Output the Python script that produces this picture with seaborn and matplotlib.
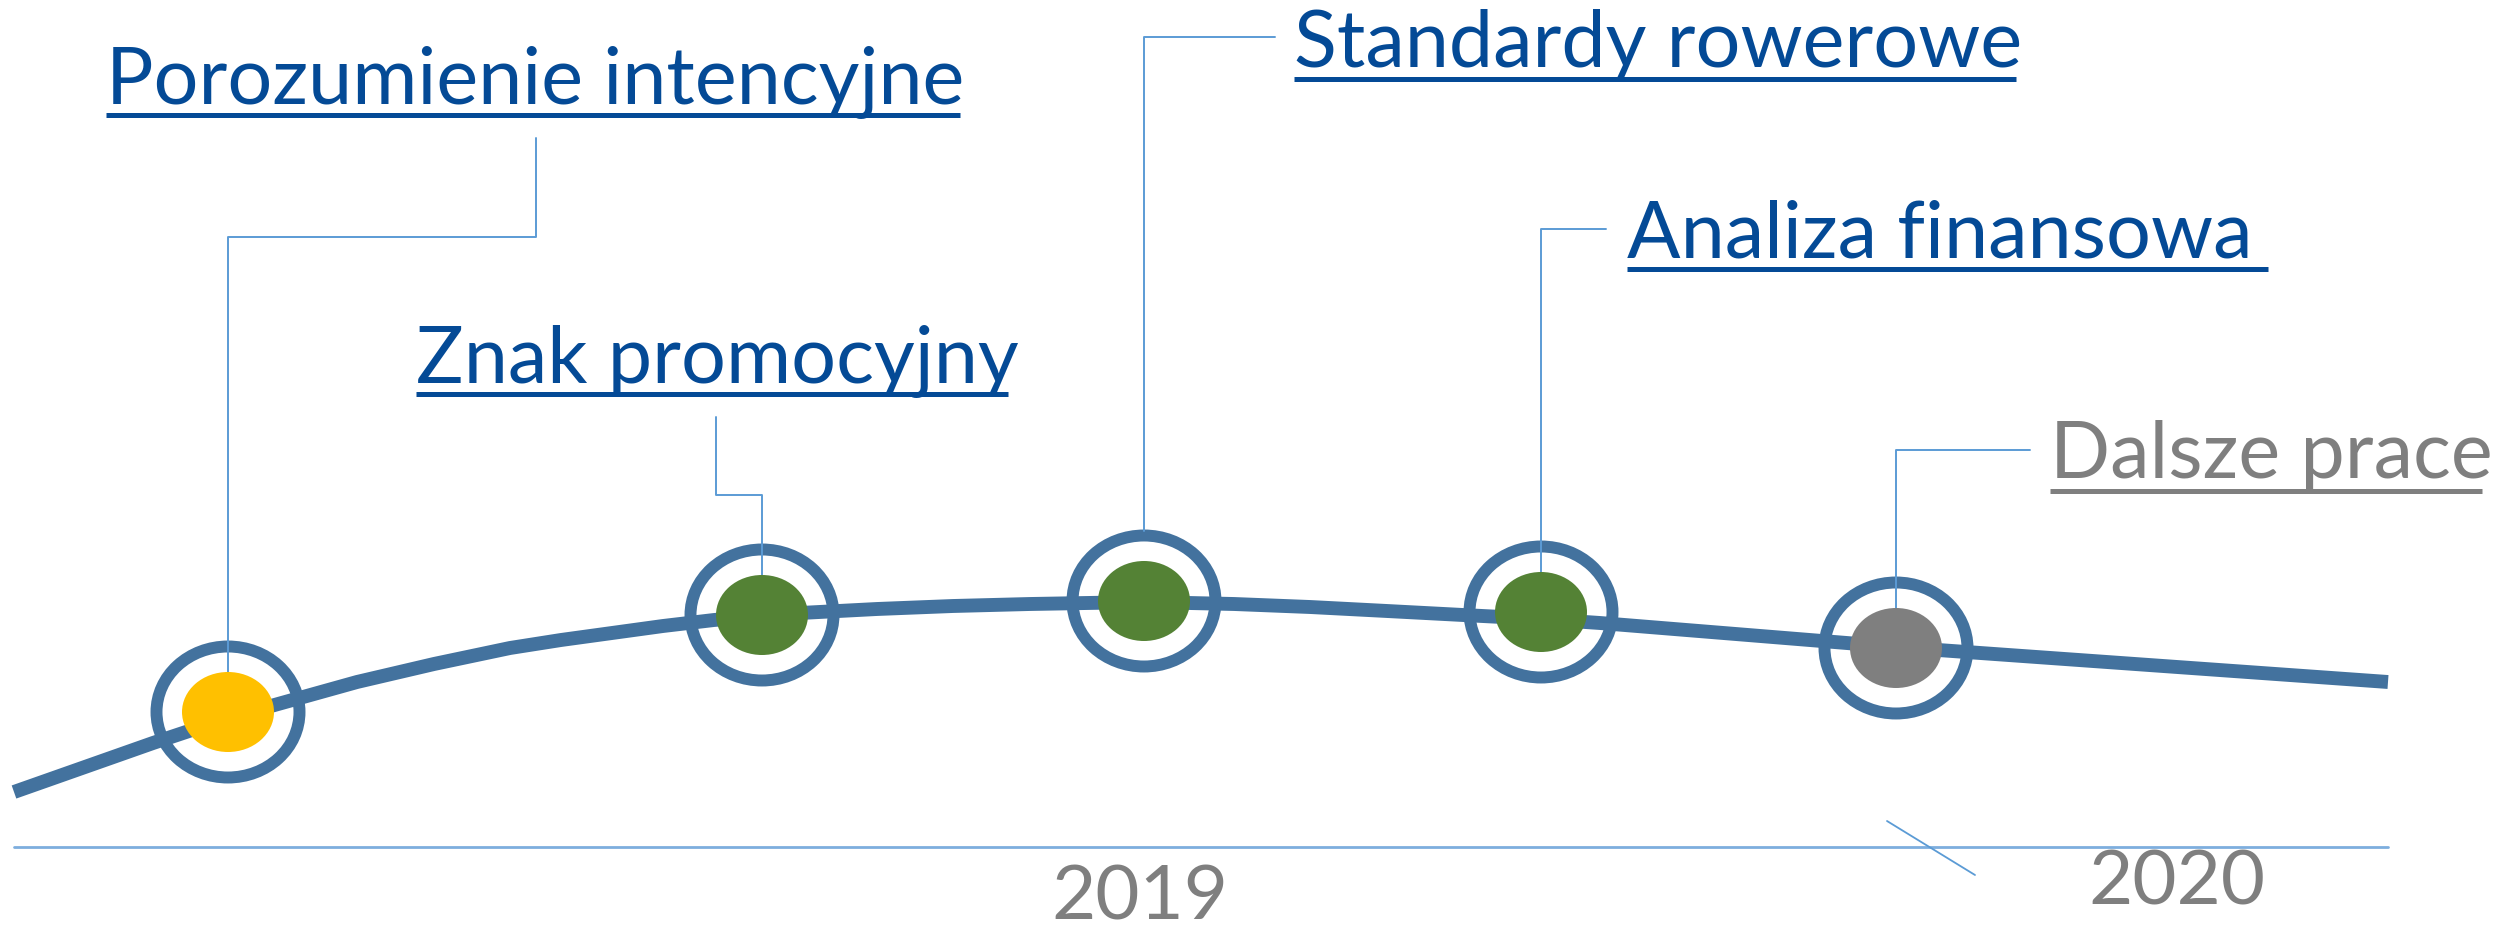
import matplotlib
matplotlib.use('Agg')
import matplotlib.pyplot as plt
from matplotlib.patches import Ellipse
import pandas as pd
import seaborn as sns

# Values, in pixel units (y grows downwards)
curve_x = [14, 153, 228, 296, 357, 434, 510, 561, 612, 663, 714, 762, 800, 877, 953,
           1030, 1144, 1234, 1310, 1387, 1463, 1541, 1600, 1896, 2388]
curve_y = [793, 744, 719, 700, 683, 665, 649, 641, 634, 627, 621, 617, 614, 610, 607,
           605, 603, 605, 608, 612, 616, 620, 624, 648, 683]

labels = ['Porozumienie intencyjne', 'Znak promocyjny', 'Standardy rowerowe',
          'Analiza finansowa ', 'Dalsze prace']
milestone_x = [228, 762, 1144, 1541, 1896]
milestone_y = [713, 616, 602, 613, 649]
fill_colors = ['#FFC000', '#548235', '#548235', '#548235', '#7F7F7F']
label_colors = ['#044A96', '#044A96', '#044A96', '#044A96', '#7F7F7F']

label_x = [106, 416, 1294, 1627, 2050]
label_baseline = [104, 383, 67, 258, 478]
underline_y = [116, 395, 80, 270, 492]
underline_end = [960, 1008, 2016, 2268, 2482]

# leader lines from each milestone up to its label
leader_x = [[228, 228, 536, 536], [762, 762, 716, 716], [1144, 1144, 1275],
            [1541, 1541, 1606], [1896, 1896, 2030]]
leader_y = [[673, 238, 238, 139], [576, 496, 496, 418], [532, 38, 38],
            [573, 230, 230], [609, 451, 451]]

years = ['2019', '2020']
year_x = [1140, 2177]
year_baseline = [920, 905]
axis_x = [14, 2388]
axis_y = [848, 848]
tick_x = [1887, 1975]
tick_y = [822, 876]

sns.set_theme(style='white')
plt.rcParams['font.family'] = ['Lato', 'DejaVu Sans']

fig = plt.figure(figsize=(25.01, 9.28), dpi=100)
ax = fig.add_axes([0, 0, 1, 1])
ax.set_xlim(0, 2501)
ax.set_ylim(928, 0)
ax.axis('off')

# time axis
ax.plot(axis_x, axis_y, color='#7DAEDE', lw=2, zorder=1)
ax.plot(tick_x, tick_y, color='#5B9BD5', lw=1.3, zorder=1)
for yr, x, y in zip(years, year_x, year_baseline):
    ax.text(x, y, yr, color='#7F7F7F', fontsize=55, ha='center', va='baseline')

# main curve
curve = pd.DataFrame({'x': curve_x, 'y': curve_y})
sns.lineplot(data=curve, x='x', y='y', ax=ax, color='#43729E', lw=10,
             estimator=None, sort=False, zorder=2)
ax.lines[-1].set_solid_capstyle('butt')
ax.lines[-1].set_solid_joinstyle('round')

for i in range(len(labels)):
    mx, my = milestone_x[i], milestone_y[i]
    ax.add_patch(Ellipse((mx, my), 143, 131, fill=False, ec='#43729E', lw=8.6, zorder=3))
    ax.plot(leader_x[i], leader_y[i], color='#5B9BD5', lw=1.4, zorder=4)
    ax.add_patch(Ellipse((mx, my), 92, 80, fc=fill_colors[i], ec='none', zorder=5))
    ax.text(label_x[i], label_baseline[i], labels[i], color=label_colors[i],
            fontsize=57, ha='left', va='baseline', zorder=6)
    ax.plot([label_x[i], underline_end[i]], [underline_y[i]] * 2,
            color=label_colors[i], lw=3.6, solid_capstyle='butt', zorder=6)

fig.savefig('out.png', dpi=100)
